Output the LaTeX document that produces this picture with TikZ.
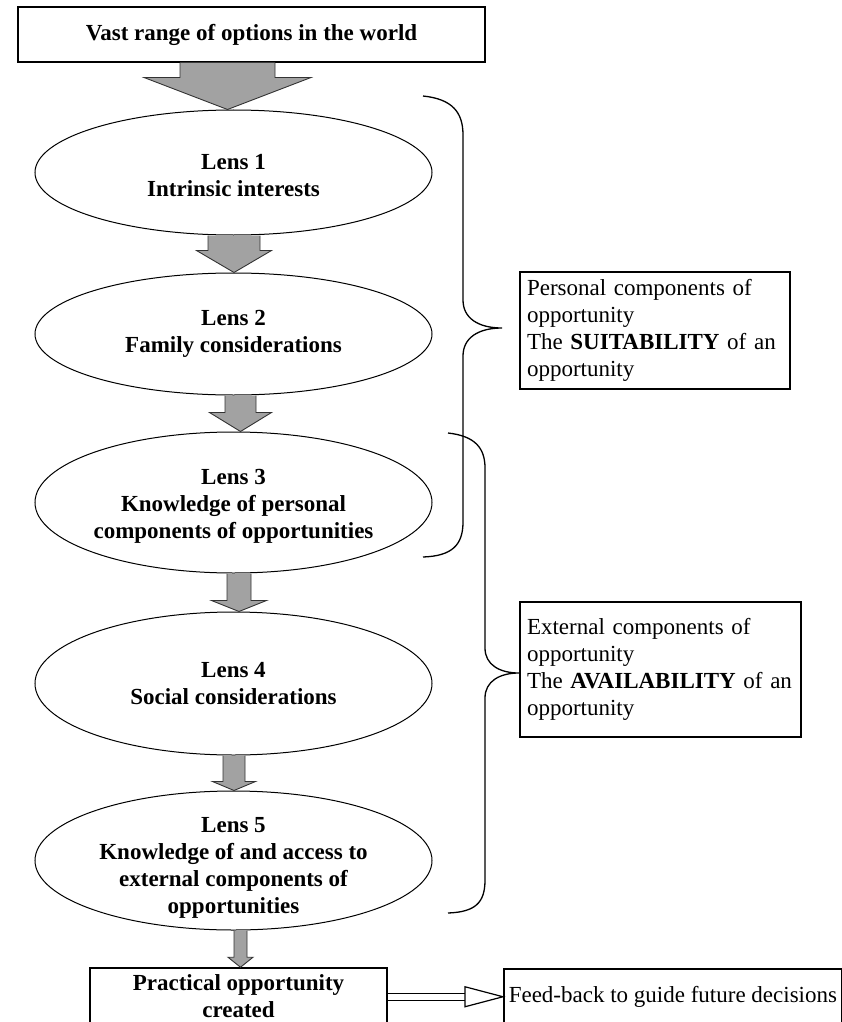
\documentclass[tikz,border=0pt]{standalone}
\usepackage{fontspec}
\setmainfont{Liberation Serif}
\usetikzlibrary{calc,shapes.geometric}
\definecolor{arrgray}{RGB}{162,162,162}
\tikzset{
  lensshape/.style={ellipse, draw, line width=1pt, fill=white, minimum width=397pt, inner sep=0pt},
  lenstext/.style={align=center, inner sep=0pt, font=\fontsize{23}{27}\selectfont\bfseries},
  plainbox/.style={draw, line width=1.5pt, fill=white, inner sep=0pt},
  boldtext/.style={font=\fontsize{23}{27}\selectfont\bfseries},
  regtext/.style={font=\fontsize{23}{27}\selectfont},
  notebox/.style={draw, line width=1.5pt, align=left, inner xsep=7pt, inner ysep=0pt, font=\fontsize{23}{27}\selectfont},
  fatarr/.style={fill=arrgray, draw=black!80, line width=0.9pt, line join=miter},
  bracestyle/.style={draw, line width=1.3pt},
}
\newcommand\fatarrow[6]{%
  \filldraw[fatarr] let \p1=(#1.south), \p2=(#2.north) in
   (#3pt-#4pt,\y1) -- (#3pt-#4pt,\y2+#6pt) -- (#3pt-#5pt,\y2+#6pt) -- (#3pt,\y2)
   -- (#3pt+#5pt,\y2+#6pt) -- (#3pt+#4pt,\y2+#6pt) -- (#3pt+#4pt,\y1);
}
\begin{document}
\begin{tikzpicture}[x=1pt,y=-1pt]
\useasboundingbox (0,0) rectangle (842,1022);
\clip (0,0) rectangle (842,1022);

\node[plainbox, boldtext, minimum width=467pt, minimum height=55pt] (world) at (251.5,34.5) {Vast range of options in the world};

\node[lensshape, minimum height=125pt, label={[lenstext, yshift=-3.5pt]center:Lens 1\\Intrinsic interests}] (l1) at (233.5,172.5) {};
\node[lensshape, minimum height=122pt, label={[lenstext]center:Lens 2\\Family considerations}] (l2) at (233.5,334) {};
\node[lensshape, minimum height=141pt, label={[lenstext, yshift=-4pt]center:Lens 3\\Knowledge of personal\\components of opportunities}] (l3) at (233.5,502.5) {};
\node[lensshape, minimum height=143pt, label={[lenstext]center:Lens 4\\Social considerations}] (l4) at (233.5,683.5) {};
\node[lensshape, minimum height=139pt, label={[lenstext, yshift=-7pt]center:Lens 5\\Knowledge of and access to\\external components of\\opportunities}] (l5) at (233.5,860.5) {};

\node[plainbox, boldtext, align=center, minimum width=297pt, minimum height=57pt] (prac) at (238.5,996.5) {Practical opportunity\\created};
\node[plainbox, regtext, anchor=north west, minimum height=56pt, inner xsep=5pt] (fb) at (503,968) {Feed-back to guide future decisions};

\node[notebox, text width=256pt, minimum height=117pt] (pers) at (655,330.5) {Personal components of\\opportunity\\The \textbf{SUITABILITY} of an\\opportunity};
\node[notebox, text width=267pt, minimum height=135pt] (ext) at (660.5,669.5) {External components of\\opportunity\\The \textbf{AVAILABILITY} of an\\opportunity};

\fatarrow{world}{l1}{227.5}{47.5}{83.5}{32}
\fatarrow{l1}{l2}{234}{26}{37.5}{22}
\fatarrow{l2}{l3}{240.5}{15.5}{31}{19}
\fatarrow{l3}{l4}{239}{12}{27.5}{11}
\fatarrow{l4}{l5}{234}{11}{21.5}{9}
\fatarrow{l5}{prac}{240.5}{6.5}{12.5}{10}

\draw[line width=1.2pt, double, double distance=5.5pt] (prac.east |- fb.west) -- ($(fb.west)+(-38,0)$);
\filldraw[fill=white, line width=1.2pt, line join=miter] ($(fb.west)+(-38,-10)$) -- (fb.west) -- ($(fb.west)+(-38,10)$) -- cycle;

\draw[bracestyle] (423,96) .. controls (452,99) and (463,112) .. (463,135) -- (463,300)
  .. controls (463,318) and (478,328) .. (502,328)
  .. controls (478,328) and (463,338) .. (463,356) -- (463,522)
  .. controls (463,545) and (452,556) .. (423,557);
\draw[bracestyle] (448,433) .. controls (475,436) and (485,448) .. (485,468) -- (485,648)
  .. controls (485,665) and (500,673) .. (519,673)
  .. controls (500,673) and (485,681) .. (485,698) -- (485,880)
  .. controls (485,903) and (475,912) .. (448,913);
\end{tikzpicture}
\end{document}
